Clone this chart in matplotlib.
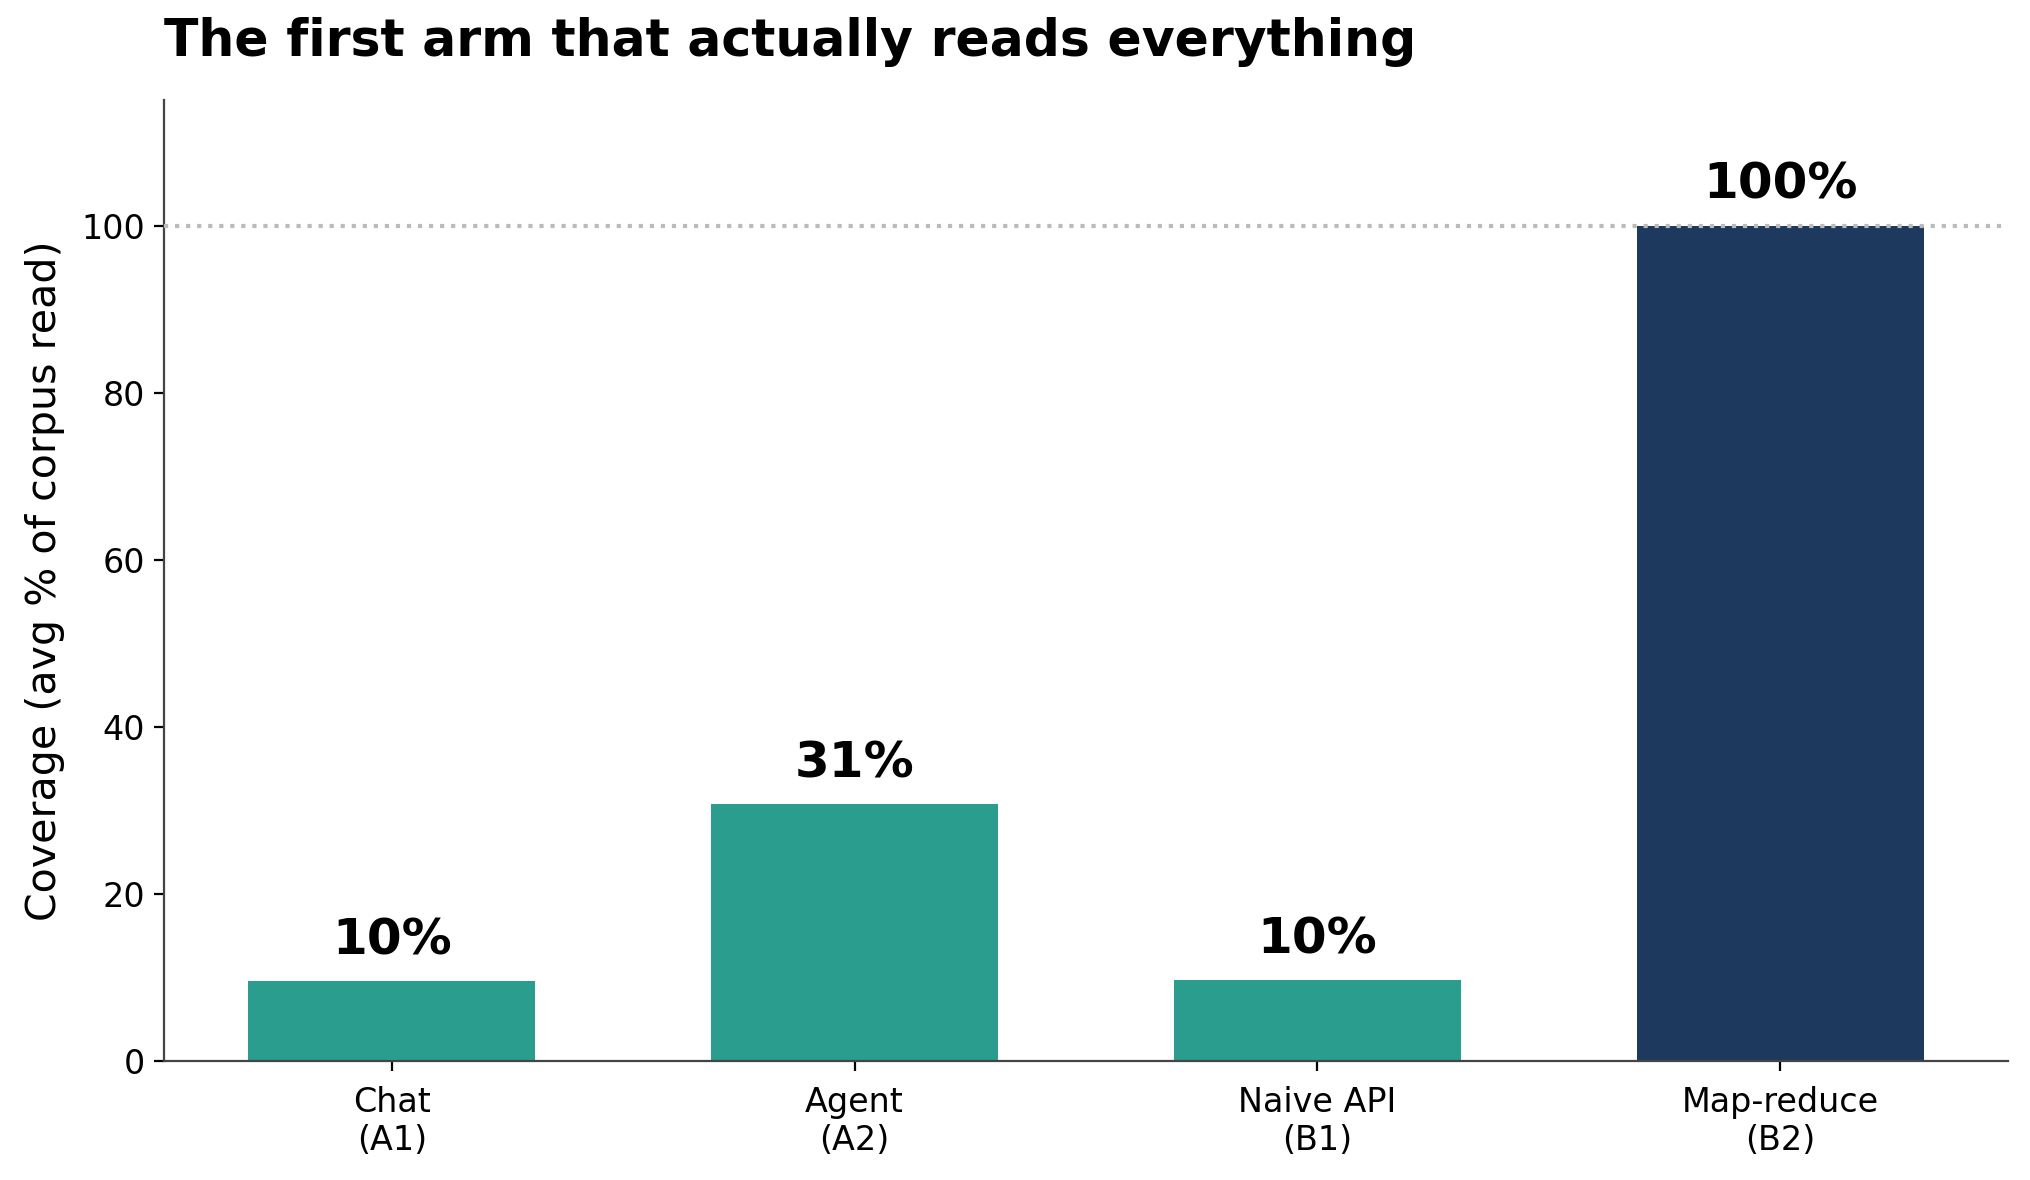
import matplotlib
matplotlib.use("Agg")
import matplotlib.pyplot as plt

arms = ["Chat\n(A1)", "Agent\n(A2)", "Naive API\n(B1)", "Map-reduce\n(B2)"]
coverage = [9.5, 30.7, 9.7, 100.0]
bar_colors = ["#2a9d8f", "#2a9d8f", "#2a9d8f", "#1d3a5e"]

fig = plt.figure(figsize=(10.15, 5.9), dpi=200)
ax = fig.add_axes([0.081, 0.101, 0.908, 0.814])

x = range(len(arms))
ax.bar(x, coverage, width=0.62, color=bar_colors, zorder=2)
ax.axhline(100, color="#bbbbbb", linestyle=":", linewidth=1.5, zorder=3)

for i, v in enumerate(coverage):
    ax.text(i, v + 2.0, f"{v:.0f}%", ha="center", va="bottom",
            fontsize=18, fontweight="bold")

ax.set_xticks(list(x))
ax.set_xticklabels(arms, fontsize=12)
ax.tick_params(axis="x", pad=5.5)
ax.tick_params(axis="y", labelsize=12)
ax.set_ylim(0, 115)
ax.set_yticks([0, 20, 40, 60, 80, 100])
ax.set_ylabel("Coverage (avg % of corpus read)", fontsize=14.8, labelpad=6)
ax.set_title("The first arm that actually reads everything", loc="left",
             fontsize=18.2, fontweight="bold", pad=16)

for side in ["top", "right"]:
    ax.spines[side].set_visible(False)
for side in ["left", "bottom"]:
    ax.spines[side].set_color("#444444")

fig.savefig("out.png", dpi=200)
